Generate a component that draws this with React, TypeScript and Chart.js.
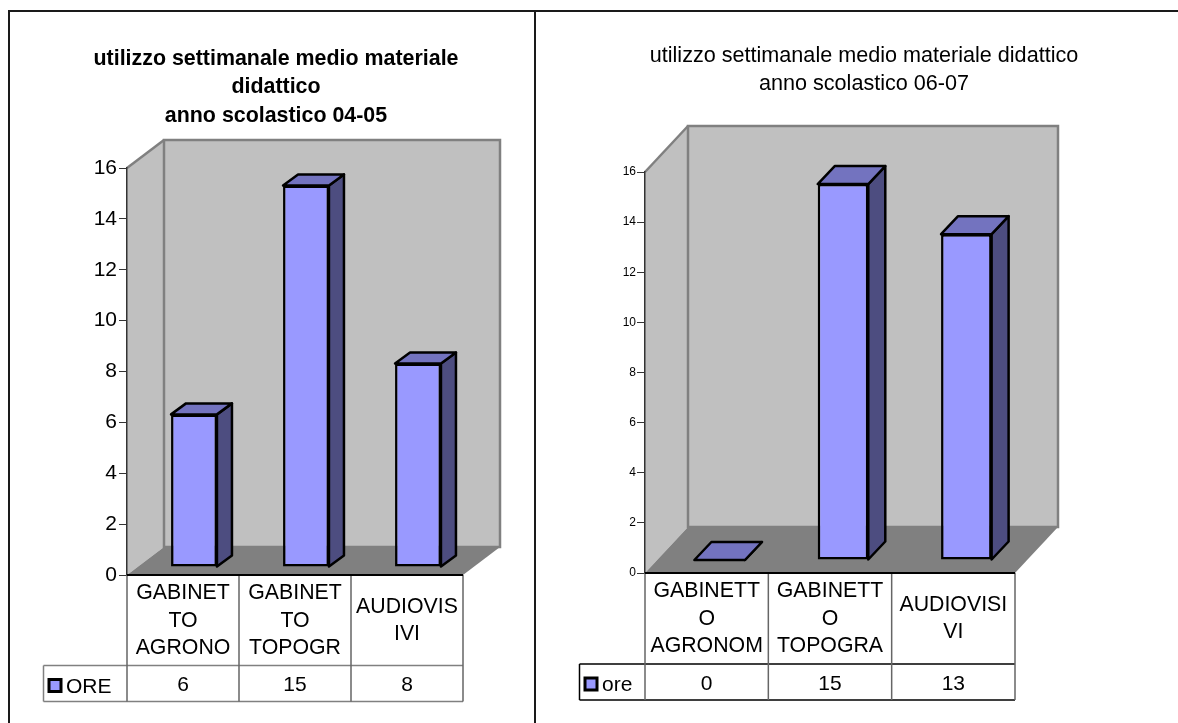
import React, { useEffect, useRef } from "react";
import { Chart, registerables } from "chart.js";

Chart.register(...registerables);

const FONT = '"Liberation Sans", Arial, sans-serif';

const leftTitle = ["utilizzo settimanale medio materiale", "didattico", "anno scolastico 04-05"];
const leftCategories = [["GABINET", "TO", "AGRONO"], ["GABINET", "TO", "TOPOGR"], ["AUDIOVIS", "IVI"]];
const leftSeriesName = "ORE";
const leftValues = [6, 15, 8];

const rightTitle = ["utilizzo settimanale medio materiale didattico", "anno scolastico 06-07"];
const rightCategories = [["GABINETT", "O", "AGRONOM"], ["GABINETT", "O", "TOPOGRA"], ["AUDIOVISI", "VI"]];
const rightSeriesName = "ore";
const rightValues = [0, 15, 13];

const WALL = "#C0C0C0";
const WALL_EDGE = "#808080";
const FLOOR = "#808080";
const FRONT = "#9999FF";
const TOP = "#7373BF";
const SIDE = "#4D4D80";

type Look = {
  depth: [number, number];
  barShift: [number, number];
  barDepth: [number, number];
  rowY: number;
  tableBottom: number;
  legendLeft: number;
  swatch: number;
  cellFont: number;
  tableEdge: string;
  titleCenter: number;
};

const threeD = (look: Look) => ({
  id: "threeD",
  afterLayout(chart: any) {
    const t = chart.titleBlock;
    if (t) {
      t.left = look.titleCenter - 300;
      t.right = look.titleCenter + 300;
    }
  },
  beforeDraw(chart: any) {
    const { ctx, chartArea: a } = chart;
    const [dx, dy] = look.depth;
    ctx.save();
    ctx.lineJoin = "miter";
    ctx.fillStyle = WALL;
    ctx.strokeStyle = WALL_EDGE;
    ctx.lineWidth = 2.5;
    ctx.beginPath();
    ctx.moveTo(a.left, a.bottom);
    ctx.lineTo(a.left + dx, a.bottom + dy);
    ctx.lineTo(a.left + dx, a.top + dy);
    ctx.lineTo(a.left, a.top);
    ctx.closePath();
    ctx.fill();
    ctx.beginPath();
    ctx.moveTo(a.left, a.top);
    ctx.lineTo(a.left + dx, a.top + dy);
    ctx.stroke();
    ctx.beginPath();
    ctx.rect(a.left + dx, a.top + dy, a.width, a.height);
    ctx.fill();
    ctx.stroke();
    ctx.fillStyle = FLOOR;
    ctx.beginPath();
    ctx.moveTo(a.left, a.bottom);
    ctx.lineTo(a.left + dx, a.bottom + dy);
    ctx.lineTo(a.right + dx, a.bottom + dy);
    ctx.lineTo(a.right, a.bottom);
    ctx.closePath();
    ctx.fill();
    ctx.restore();
  },
  beforeDatasetsDraw(chart: any) {
    const { ctx } = chart;
    const [bx, by] = look.barDepth;
    ctx.save();
    ctx.translate(look.barShift[0], look.barShift[1]);
    ctx.lineJoin = "round";
    ctx.lineWidth = 2.5;
    ctx.strokeStyle = "#000";
    chart.getDatasetMeta(0).data.forEach((bar: any) => {
      const p = bar.getProps(["x", "y", "base", "width"], true);
      const l = p.x - p.width / 2;
      const r = p.x + p.width / 2;
      ctx.fillStyle = SIDE;
      ctx.beginPath();
      ctx.moveTo(r, p.y);
      ctx.lineTo(r + bx, p.y + by);
      ctx.lineTo(r + bx, p.base + by);
      ctx.lineTo(r, p.base);
      ctx.closePath();
      ctx.fill();
      ctx.stroke();
      ctx.fillStyle = TOP;
      ctx.beginPath();
      ctx.moveTo(l, p.y);
      ctx.lineTo(l + bx, p.y + by);
      ctx.lineTo(r + bx, p.y + by);
      ctx.lineTo(r, p.y);
      ctx.closePath();
      ctx.fill();
      ctx.stroke();
    });
  },
  afterDatasetsDraw(chart: any) {
    chart.ctx.restore();
  },
  afterDraw(chart: any) {
    const { ctx, chartArea: a, scales } = chart;
    const x = scales.x;
    const ds = chart.data.datasets[0];
    ctx.save();
    ctx.lineWidth = 1.5;
    ctx.strokeStyle = look.tableEdge;
    ctx.beginPath();
    ctx.moveTo(look.legendLeft, look.rowY);
    ctx.lineTo(a.right, look.rowY);
    ctx.moveTo(look.legendLeft, look.tableBottom);
    ctx.lineTo(a.right, look.tableBottom);
    ctx.moveTo(look.legendLeft, look.rowY);
    ctx.lineTo(look.legendLeft, look.tableBottom);
    ctx.stroke();
    ctx.strokeStyle = "#666";
    ctx.beginPath();
    ds.data.forEach((_: number, i: number) => {
      const b = x.getPixelForValue(i - 0.5);
      ctx.moveTo(b, a.bottom);
      ctx.lineTo(b, look.tableBottom);
    });
    ctx.moveTo(a.right, a.bottom);
    ctx.lineTo(a.right, look.tableBottom);
    ctx.stroke();
    ctx.strokeStyle = "#000";
    ctx.lineWidth = 2;
    ctx.beginPath();
    ctx.moveTo(a.left, a.bottom);
    ctx.lineTo(a.right, a.bottom);
    ctx.stroke();

    const mid = (look.rowY + look.tableBottom) / 2;
    ctx.fillStyle = "#000";
    ctx.font = `${look.cellFont}px ${FONT}`;
    ctx.textAlign = "center";
    ctx.textBaseline = "middle";
    ds.data.forEach((v: number, i: number) => {
      ctx.fillText(String(v), x.getPixelForValue(i), mid + 2);
    });
    const sx = look.legendLeft + 5.5;
    const s = look.swatch;
    ctx.fillStyle = FRONT;
    ctx.strokeStyle = "#000";
    ctx.lineWidth = 3;
    ctx.fillRect(sx, mid + 2 - s / 2, s, s);
    ctx.strokeRect(sx, mid + 2 - s / 2, s, s);
    ctx.fillStyle = "#000";
    ctx.textAlign = "left";
    ctx.fillText(ds.label, sx + s + 5, mid + 3.5);
    ctx.restore();
  },
});

type Spec = {
  title: string[];
  titleWeight: string;
  titleSize: number;
  titleLine: number;
  titleTop: number;
  titleGap: number;
  labels: string[][];
  values: number[];
  name: string;
  tickSize: number;
  tickLength: number;
  tickPad: number;
  axisWidth: number;
  axisHeight: number;
  padLeft: number;
  padRight: number;
  padBottom: number;
  look: Look;
};

const leftSpec: Spec = {
  title: leftTitle,
  titleWeight: "bold",
  titleSize: 21.4,
  titleLine: 28.5,
  titleTop: 44.5,
  titleGap: 38,
  labels: leftCategories,
  values: leftValues,
  name: leftSeriesName,
  tickSize: 21,
  tickLength: 8,
  tickPad: 2,
  axisWidth: 40,
  axisHeight: 100,
  padLeft: 87,
  padRight: 89,
  padBottom: 48,
  look: {
    depth: [37, -28],
    barShift: [11, -8],
    barDepth: [15, -11],
    rowY: 665.5,
    tableBottom: 701.5,
    legendLeft: 43.5,
    swatch: 12,
    cellFont: 21,
    tableEdge: "#808080",
    titleCenter: 276,
  },
};

const rightSpec: Spec = {
  title: rightTitle,
  titleWeight: "normal",
  titleSize: 21.6,
  titleLine: 28,
  titleTop: 42,
  titleGap: 74,
  labels: rightCategories,
  values: rightValues,
  name: rightSeriesName,
  tickSize: 12,
  tickLength: 8,
  tickPad: 1,
  axisWidth: 40,
  axisHeight: 100,
  padLeft: 55,
  padRight: 163,
  padBottom: 50,
  look: {
    depth: [43, -46],
    barShift: [13, -13],
    barDepth: [17, -18],
    rowY: 664,
    tableBottom: 700,
    legendLeft: 579.5 - 550,
    swatch: 12,
    cellFont: 21,
    tableEdge: "#000",
    titleCenter: 864 - 550,
  },
};

function Panel({ spec, left, width }: { spec: Spec; left: number; width: number }) {
  const ref = useRef<HTMLCanvasElement | null>(null);
  useEffect(() => {
    const chart = new Chart(ref.current as HTMLCanvasElement, {
      type: "bar",
      data: {
        labels: spec.labels as any,
        datasets: [
          {
            label: spec.name,
            data: spec.values,
            backgroundColor: FRONT,
            borderColor: "#000",
            borderWidth: 2.5,
            borderSkipped: false,
            categoryPercentage: 0.41,
            barPercentage: 1,
            clip: false,
          } as any,
        ],
      },
      options: {
        animation: false,
        responsive: false,
        events: [],
        layout: { padding: { left: spec.padLeft, right: spec.padRight, bottom: spec.padBottom } },
        plugins: {
          legend: { display: false },
          tooltip: { enabled: false },
          title: {
            display: true,
            text: spec.title,
            color: "#000",
            padding: { top: spec.titleTop, bottom: spec.titleGap },
            font: {
              family: FONT,
              size: spec.titleSize,
              weight: spec.titleWeight as any,
              lineHeight: spec.titleLine / spec.titleSize,
            },
          },
        },
        scales: {
          x: {
            afterFit: (s: any) => {
              s.height = spec.axisHeight;
            },
            border: { display: false },
            grid: { display: false },
            ticks: {
              color: "#000",
              autoSkip: false,
              maxRotation: 0,
              padding: 10.5,
              crossAlign: "center",
              font: { family: FONT, size: 21.3, lineHeight: 27.3 / 21.3 },
            },
          },
          y: {
            min: 0,
            max: 16,
            afterFit: (s: any) => {
              s.width = spec.axisWidth;
            },
            border: { display: true, color: "#333", width: 1.5 },
            grid: { drawOnChartArea: false, drawTicks: true, tickLength: spec.tickLength, color: "#333" },
            ticks: {
              stepSize: 2,
              color: "#000",
              padding: spec.tickPad,
              font: { family: FONT, size: spec.tickSize },
            },
          },
        },
      },
      plugins: [threeD(spec.look)],
    } as any);
    return () => chart.destroy();
  }, [spec]);
  return (
    <canvas
      ref={ref}
      width={width}
      height={723}
      style={{ position: "absolute", left, top: 0, width, height: 723, display: "block" }}
    />
  );
}

export default function App() {
  const line = { position: "absolute", background: "#1a1a1a" } as const;
  return (
    <div style={{ position: "absolute", left: 0, top: 0, width: 1178, height: 723, overflow: "hidden", background: "#fff" }}>
      <div style={{ ...line, left: 8, top: 10, width: 1170, height: 2 }} />
      <div style={{ ...line, left: 8, top: 10, width: 2, height: 713 }} />
      <div style={{ ...line, left: 534, top: 10, width: 2, height: 713 }} />
      <Panel spec={leftSpec} left={0} width={552} />
      <Panel spec={rightSpec} left={550} width={628} />
    </div>
  );
}
